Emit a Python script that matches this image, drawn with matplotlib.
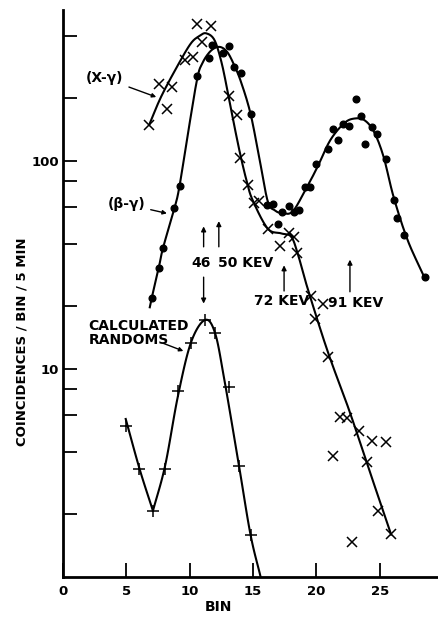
import numpy as np
import matplotlib
matplotlib.use("Agg")
from matplotlib import pyplot as plt
from matplotlib.ticker import FixedLocator, NullLocator

# coincidence spectrum, log scale, three series + hand drawn fit curves

# (X-gamma) points, crosses
xg_bin = [6.8, 7.6, 8.2, 8.6, 9.6, 10.3, 11.0, 10.6, 11.7, 13.1, 13.7, 14.0, 14.6,
          15.05, 15.5, 16.2, 17.1, 17.8, 18.2, 18.5, 19.6, 20.5, 19.9, 20.9, 21.3,
          21.9, 22.4, 22.85, 23.4, 24.0, 24.4, 24.9, 25.5, 25.9]
xg_val = [149, 234, 178, 227, 306, 317, 372, 456, 446, 205, 166, 103, 77,
          63, 64, 47, 39, 45, 43, 36, 22.4, 20.5, 17.3, 11.4, 3.83,
          5.9, 5.8, 1.48, 5.05, 3.58, 4.5, 2.08, 4.45, 1.61]

# (beta-gamma) points, dots
bg_bin = [7.0, 7.55, 7.9, 8.8, 9.2, 10.6, 11.5, 11.8, 12.6, 13.1, 13.5, 14.05, 14.8,
          16.1, 16.55, 16.95, 17.3, 17.8, 18.2, 18.6, 19.1, 19.5, 20.0, 20.9, 21.3,
          21.7, 22.1, 22.6, 23.1, 23.5, 23.8, 24.4, 24.8, 25.5, 26.1, 26.4, 26.9, 28.6]
bg_val = [21.9, 30.5, 38.3, 59.3, 76, 256, 314, 361, 330, 357, 284, 266, 169,
          61.4, 62.1, 49.7, 56.9, 60.8, 56.8, 58, 74.8, 74.8, 96.9, 114, 142,
          126, 150, 147, 198, 165, 121, 145, 135, 102, 65, 53, 44, 27.6]

# calculated randoms, plus signs
rn_bin = [5.0, 6.0, 7.1, 8.05, 9.05, 10.1, 11.2, 12.0, 13.1, 13.9, 14.8]
rn_val = [5.3, 3.3, 2.08, 3.3, 7.8, 13.4, 17.2, 14.9, 8.2, 3.4, 1.6]

# fitted curves (knots of the drawn lines)
xg_fit_bin = [6.8, 7.75, 9.07, 10.1, 10.8, 11.3, 11.95, 12.5, 13.0, 13.5, 14.0, 14.5,
              14.96, 16.15, 17.2, 18.0, 18.52, 19.3, 20.9, 22.6, 24.3, 25.9]
xg_fit_val = [149, 204, 289, 368, 400, 411, 382, 300, 215, 150, 107, 80,
              65, 47.4, 44.9, 43.3, 36, 24.5, 12.1, 6.3, 3.1, 1.6]

bg_fit_bin = [6.85, 7.0, 7.55, 7.9, 8.8, 9.2, 9.9, 10.6, 11.0, 11.5, 12.0, 12.5,
              13.0, 13.5, 14.05, 14.8, 15.5, 16.16, 16.7, 17.3, 18.1, 19.0, 20.1,
              21.1, 22.2, 23.0, 23.8, 24.55, 25.3, 26.1, 27.2, 28.5]
bg_fit_val = [19.8, 21.9, 30.5, 38.3, 59.3, 76, 140, 250, 295, 330, 350, 352,
              332, 290, 240, 169, 103, 64, 58, 56.1, 57, 70, 94,
              126, 152, 160, 157, 138, 105, 67, 41.7, 27.8]

rn_fit_bin = [4.95, 6.05, 7.1, 8.07, 9.07, 10.1, 11.2, 12.0, 12.74, 13.9, 14.8, 15.6]
rn_fit_val = [5.75, 3.3, 2.08, 3.45, 7.4, 13.4, 17.2, 14.9, 8.85, 3.4, 1.6, 1.0]

yticks = [2, 4, 6, 8, 10, 20, 40, 60, 80, 100, 200, 400]


def smooth(xs, ys, n=12):
    # catmull-rom through the knots, in log y so it looks like the hand curve
    x = np.asarray(xs, float)
    y = np.log10(np.asarray(ys, float))
    px = np.r_[2 * x[0] - x[1], x, 2 * x[-1] - x[-2]]
    py = np.r_[2 * y[0] - y[1], y, 2 * y[-1] - y[-2]]
    t = np.linspace(0, 1, n, endpoint=False)[:, None]
    ox, oy = [], []
    for i in range(1, len(px) - 2):
        p = np.array([[px[i - 1], py[i - 1]], [px[i], py[i]],
                      [px[i + 1], py[i + 1]], [px[i + 2], py[i + 2]]])
        seg = 0.5 * ((2 * p[1]) + (-p[0] + p[2]) * t
                     + (2 * p[0] - 5 * p[1] + 4 * p[2] - p[3]) * t ** 2
                     + (-p[0] + 3 * p[1] - 3 * p[2] + p[3]) * t ** 3)
        ox.extend(seg[:, 0])
        oy.extend(seg[:, 1])
    ox.append(x[-1])
    oy.append(y[-1])
    return np.array(ox), 10 ** np.array(oy)


fig = plt.figure(figsize=(4.38, 6.17), dpi=100)
ax = fig.add_axes([63 / 438, 1 - 577 / 617, 1 - 63 / 438, (577 - 10) / 617])

# randoms curve has a sharp V at its minimum, so draw it as two pieces
curves = [(xg_fit_bin, xg_fit_val), (bg_fit_bin, bg_fit_val),
          (rn_fit_bin[:3], rn_fit_val[:3]), (rn_fit_bin[2:], rn_fit_val[2:])]
for fb, fv in curves:
    sx, sy = smooth(fb, fv)
    ax.plot(sx, sy, color="k", lw=1.5)

ax.plot(xg_bin, xg_val, ls="none", marker="x", ms=6.5, mew=1.1, color="k")
ax.plot(bg_bin, bg_val, ls="none", marker="o", ms=4.8, color="k")
ax.plot(rn_bin, rn_val, ls="none", marker="+", ms=9, mew=1.1, color="k")

ax.set_yscale("log")
ax.set_xlim(0, 29.6)
ax.set_ylim(1, 532)

for s in ["top", "right"]:
    ax.spines[s].set_visible(False)
for s in ["left", "bottom"]:
    ax.spines[s].set_linewidth(2)

ax.set_xticks([0, 5, 10, 15, 20, 25])
ax.set_xticklabels(["0", "5", "10", "15", "20", "25"], fontsize=9.5, fontweight="bold")
ax.yaxis.set_major_locator(FixedLocator(yticks))
ax.yaxis.set_minor_locator(NullLocator())
ax.set_yticklabels(["10" if v == 10 else "100" if v == 100 else "" for v in yticks],
                   fontsize=9.5, fontweight="bold")
ax.tick_params(axis="both", direction="in", length=10, width=1.3)
ax.tick_params(axis="y", pad=3)
ax.tick_params(axis="x", pad=6)

tf = dict(fontsize=10, fontweight="bold", color="k")
arr = dict(arrowstyle="-|>", color="k", lw=1.0, mutation_scale=7)
lab = dict(arrowstyle="-|>", color="k", lw=1.0, mutation_scale=6, shrinkA=2, shrinkB=0)

ax.annotate("(X-γ)", xy=(7.36, 203), xytext=(3.3, 250), ha="center", va="center",
            arrowprops=lab, **tf)
ax.annotate("(β-γ)", xy=(8.2, 56), xytext=(5.0, 62), ha="center", va="center",
            arrowprops=lab, **tf)
ax.text(2.0, 14.9, "CALCULATED\nRANDOMS", ha="left", va="center", linespacing=1.0, **tf)
ax.annotate("", xy=(9.5, 12.2), xytext=(7.9, 13.3),
            arrowprops=dict(lab, shrinkA=0))

# energy markers
ax.text(10.9, 32.5, "46", ha="center", va="center", **tf)
ax.text(12.25, 32.5, "50 KEV", ha="left", va="center", **tf)
ax.annotate("", xy=(11.1, 50), xytext=(11.1, 37.5), arrowprops=arr)
ax.annotate("", xy=(12.3, 53), xytext=(12.3, 37.5), arrowprops=arr)
ax.annotate("", xy=(11.1, 20.0), xytext=(11.1, 28.5), arrowprops=arr)

ax.text(15.1, 21.2, "72 KEV", ha="left", va="center", **tf)
ax.annotate("", xy=(17.45, 32.5), xytext=(17.45, 23.0), arrowprops=arr)
ax.text(20.95, 20.8, "91 KEV", ha="left", va="center", **tf)
ax.annotate("", xy=(22.65, 34.6), xytext=(22.65, 22.8), arrowprops=arr)

fig.text(218 / 438, 1 - 607 / 617, "BIN", ha="center", va="center", **tf)
fig.text(22 / 438, 1 - 342 / 617, "COINCIDENCES / BIN / 5 MIN", rotation=90,
         ha="center", va="center", fontsize=9.5, fontweight="bold", color="k")

fig.savefig("out.png", dpi=100)
